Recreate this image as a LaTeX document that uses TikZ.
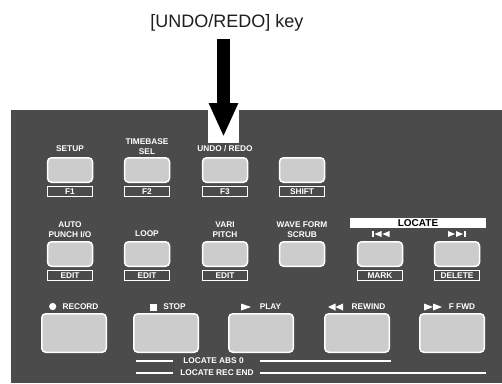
\documentclass[tikz,border=0pt]{standalone}
\usepackage{fontspec}
\setmainfont{Liberation Sans}
\usepackage{tikz}
\usetikzlibrary{arrows.meta,positioning}
\usepackage{xcolor}
\definecolor{pnlGray}{HTML}{4B4B4B}
\definecolor{keyGray}{HTML}{CCCCCC}
\definecolor{capInk}{HTML}{1E1E1E}
\newcommand\lblfont{\fontsize{8.3}{10}\selectfont\bfseries}
\tikzset{
  panel/.style={fill=pnlGray, draw=none},
  keybox/.style={rounded corners=4pt, draw=white, line width=1.5pt, fill=keyGray, minimum width=45pt, minimum height=24.5pt, inner sep=0pt},
  bigkey/.style={keybox, minimum width=64.5pt, minimum height=38.5pt},
  tagbox/.style={draw=white, line width=0.9pt, fill=pnlGray, text=white, font=\lblfont, minimum width=45pt, minimum height=9.5pt, inner sep=0pt},
  lbl/.style={text=white, font=\lblfont, align=center, inner sep=0pt},
  locbar/.style={fill=white, draw=none, text=black, font=\fontsize{10}{11}\selectfont\bfseries, minimum width=136pt, minimum height=10pt, inner sep=0pt},
  bigarrow/.style={-{Triangle[length=34pt,width=27pt]}, line width=13pt, draw=black},
  rule/.style={draw=white, line width=1.2pt},
  icon/.style={fill=white, draw=none}
}

\begin{document}
\begin{tikzpicture}[x=1pt,y=-1pt]
  \useasboundingbox (0,0) rectangle (502,383);
  \fill[white] (0,0) rectangle (502,383);
  \fill[panel] (11,110) rectangle (502,383);
  \fill[white] (208,110) rectangle (239,143);

  \node[text=capInk, font=\fontsize{18}{20}\selectfont, inner sep=0pt] (title) at (227,23) {[UNDO/REDO] key};

  % row 1
  \node[keybox] (setup) at (70,170) {};
  \node[keybox] (tbase) at (147,170) {};
  \node[keybox] (undokey) at (225,170) {};
  \node[keybox] (shift) at (302,170) {};
  \node[lbl] (setuplbl) at (70,149) {SETUP};
  \node[lbl] (tbaselbl) at (147,147) {TIMEBASE\\SEL};
  \node[lbl] (undolbl) at (225,149) {UNDO / REDO};
  \node[tagbox, below=3pt of setup] (fone) {F1};
  \node[tagbox, below=3pt of tbase] (ftwo) {F2};
  \node[tagbox, below=3pt of undokey] (fthree) {F3};
  \node[tagbox, below=3pt of shift] (shifttag) {SHIFT};

  % row 2
  \node[keybox] (punch) at (70,254) {};
  \node[keybox] (loop) at (147,254) {};
  \node[keybox] (vari) at (225,254) {};
  \node[keybox] (scrub) at (302,254) {};
  \node[keybox] (mark) at (380,254) {};
  \node[keybox] (delete) at (457,254) {};
  \node[lbl] (punchlbl) at (70,230) {AUTO\\PUNCH I/O};
  \node[lbl] (looplbl) at (147,234) {LOOP};
  \node[lbl] (varilbl) at (225,230) {VARI\\PITCH};
  \node[lbl] (scrublbl) at (302,229.5) {WAVE FORM\\SCRUB};
  \node[locbar] (locate) at (418,223) {LOCATE};
  \node[tagbox, below=3pt of punch] (edita) {EDIT};
  \node[tagbox, below=3pt of loop] (editb) {EDIT};
  \node[tagbox, below=3pt of vari] (editc) {EDIT};
  \node[tagbox, below=3pt of mark] (marktag) {MARK};
  \node[tagbox, below=3pt of delete] (deltag) {DELETE};
  \fill[icon] (372,231) rectangle (373.6,237);
  \fill[icon] (381.5,231) -- (374.5,234) -- (381.5,237) -- cycle;
  \fill[icon] (389.5,231) -- (382.5,234) -- (389.5,237) -- cycle;
  \fill[icon] (448,231) -- (455,234) -- (448,237) -- cycle;
  \fill[icon] (456,231) -- (463,234) -- (456,237) -- cycle;
  \fill[icon] (464.4,231) rectangle (466,237);

  % row 3
  \node[bigkey] (record) at (74,333) {};
  \node[bigkey] (stop) at (166,333) {};
  \node[bigkey] (play) at (261,333) {};
  \node[bigkey] (rewind) at (357,333) {};
  \node[bigkey] (ffwd) at (452,333) {};
  \node[lbl] (reclbl) at (80.5,307) {RECORD};
  \node[lbl] (stoplbl) at (174.5,307) {STOP};
  \node[lbl] (playlbl) at (270.5,307) {PLAY};
  \node[lbl] (rewlbl) at (368.5,307) {REWIND};
  \node[lbl] (ffwdlbl) at (462,307) {F FWD};
  \fill[icon] (52.7,306.5) circle (3.6);
  \fill[icon] (150,303.5) rectangle (157,310.5);
  \fill[icon] (241,303.5) -- (251,307) -- (241,310.5) -- cycle;
  \fill[icon] (335.5,303.5) -- (328,307) -- (335.5,310.5) -- cycle;
  \fill[icon] (343,303.5) -- (335.5,307) -- (343,310.5) -- cycle;
  \fill[icon] (424,303.5) -- (433,307) -- (424,310.5) -- cycle;
  \fill[icon] (433,303.5) -- (442,307) -- (433,310.5) -- cycle;

  \node[lbl] (abszero) at (213.5,361) {LOCATE ABS 0};
  \node[lbl] (recend) at (217,373) {LOCATE REC END};
  \draw[rule] (136,361) -- (173,361) (260,361) -- (391,361);
  \draw[rule] (136,373) -- (173,373) (260,373) -- (486,373);

  \coordinate (arrtop) at (223.5,39);
  \draw[bigarrow, shorten >=20pt] (arrtop) -- (arrtop |- undokey.north);
\end{tikzpicture}
\end{document}
